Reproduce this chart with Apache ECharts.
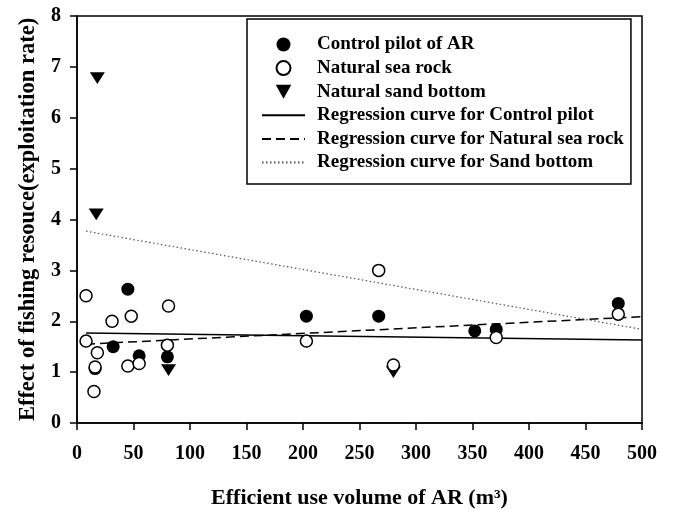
<!DOCTYPE html>
<html>
<head>
<meta charset="utf-8">
<script src="https://cdn.jsdelivr.net/npm/echarts@6/dist/echarts.min.js"></script>
<style>
  html, body { margin: 0; padding: 0; background: #fff; }
  #chart { width: 674px; height: 510px; }
</style>
</head>
<body>
<div id="chart"></div>
<script>
// values: [volume, effect]
const controlPilot = [
  [16, 1.07], [32, 1.5], [45, 2.63], [55, 1.32], [80, 1.3],
  [203, 2.1], [267, 2.1], [352, 1.81], [371, 1.84], [479, 2.35]
];
const seaRock = [
  [8, 2.5], [8, 1.61], [18, 1.38], [16, 1.1], [15, 0.62],
  [31, 2.0], [48, 2.1], [45, 1.12], [55, 1.17], [81, 2.3],
  [80, 1.53], [203, 1.61], [267, 3.0], [280, 1.14], [371, 1.68], [479, 2.14]
];
const sandBottom = [
  [18, 6.78], [17, 4.1], [81, 1.04], [280, 1.0]
];
const regControl = [[8, 1.77], [500, 1.63]];
const regRock = [[8, 1.55], [500, 2.09]];
const regSand = [[8, 3.77], [500, 1.84]];

const seriesNames = [
  'Control pilot of AR',
  'Natural sea rock',
  'Natural sand bottom',
  'Regression curve for Control pilot',
  'Regression curve for Natural sea rock',
  'Regression curve for Sand bottom'
];

const font = "'Liberation Serif', 'Times New Roman', serif";
const downTriangle = 'path://M0,0 L10,0 L5,9 Z';

// line entries in the legend: hide the marker ECharts puts on the line icon
const legendData = seriesNames.map((name, i) =>
  i < 3 ? { name } : { name, itemStyle: { opacity: 0 } }
);

const chart = echarts.init(document.getElementById('chart'));

chart.setOption({
  animation: false,
  backgroundColor: '#fff',
  textStyle: { fontFamily: font, color: '#000' },
  grid: {
    left: 77, right: 32, top: 16, bottom: 87,
    outerBoundsMode: 'none',
    show: true, borderColor: '#000', borderWidth: 1.5
  },
  legend: {
    data: legendData,
    orient: 'vertical',
    left: 247, top: 19,
    itemWidth: 43, itemHeight: 14, itemGap: 4.6,
    padding: [16, 7, 12, 14],
    borderColor: '#000', borderWidth: 1.5,
    backgroundColor: '#fff',
    symbolKeepAspect: true,
    textStyle: {
      fontFamily: font, fontSize: 19, fontWeight: 'bold', color: '#000',
      padding: [0, 0, 0, 7]
    }
  },
  xAxis: {
    type: 'value',
    min: 0, max: 500, interval: 50,
    name: 'Efficient use volume of AR (m³)',
    nameLocation: 'middle', nameGap: 64,
    nameTextStyle: { fontFamily: font, fontSize: 22, fontWeight: 'bold', color: '#000' },
    axisLine: { show: true, lineStyle: { color: '#000', width: 1.5 } },
    axisTick: { show: true, length: 7, lineStyle: { color: '#000', width: 1.5 } },
    axisLabel: { margin: 21, fontFamily: font, fontSize: 20, fontWeight: 'bold', color: '#000' },
    splitLine: { show: false }
  },
  yAxis: {
    type: 'value',
    min: 0, max: 8, interval: 1,
    name: 'Effect of fishing resouce(exploitation rate)',
    nameLocation: 'middle', nameGap: 36,
    nameTextStyle: { fontFamily: font, fontSize: 22.5, fontWeight: 'bold', color: '#000' },
    axisLine: { show: true, lineStyle: { color: '#000', width: 1.5 } },
    axisTick: { show: true, length: 7, lineStyle: { color: '#000', width: 1.5 } },
    axisLabel: { margin: 16, fontFamily: font, fontSize: 20, fontWeight: 'bold', color: '#000' },
    splitLine: { show: false }
  },
  series: [
    {
      name: seriesNames[0], type: 'scatter', data: controlPilot, z: 2,
      symbol: 'circle', symbolSize: 13,
      itemStyle: { color: '#000', opacity: 1 }
    },
    {
      name: seriesNames[1], type: 'scatter', data: seaRock, z: 4,
      symbol: 'circle', symbolSize: 12,
      itemStyle: { color: '#fff', borderColor: '#000', borderWidth: 1.5, opacity: 1 }
    },
    {
      name: seriesNames[2], type: 'scatter', data: sandBottom, z: 3,
      symbol: downTriangle, symbolSize: [15, 13], symbolKeepAspect: true,
      itemStyle: { color: '#000', opacity: 1 }
    },
    {
      name: seriesNames[3], type: 'line', data: regControl,
      symbol: 'none', showSymbol: false,
      lineStyle: { color: '#000', width: 1.5, type: 'solid' },
      itemStyle: { color: '#000' }
    },
    {
      name: seriesNames[4], type: 'line', data: regRock,
      symbol: 'none', showSymbol: false,
      lineStyle: { color: '#000', width: 1.5, type: [9, 5] },
      itemStyle: { color: '#000' }
    },
    {
      name: seriesNames[5], type: 'line', data: regSand,
      symbol: 'none', showSymbol: false,
      lineStyle: { color: '#555', width: 1.2, type: [1.5, 2.5] },
      itemStyle: { color: '#555' }
    }
  ]
});
</script>
</body>
</html>
